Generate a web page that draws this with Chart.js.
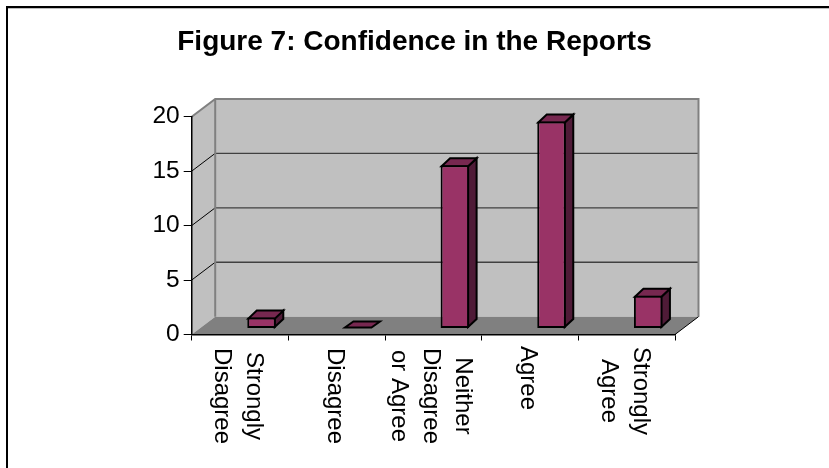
<!DOCTYPE html>
<html>
<head>
<meta charset="utf-8">
<style>html,body{margin:0;padding:0;background:#fff}#wrap{position:relative;width:829px;height:468px}</style>
<script src="https://cdn.jsdelivr.net/npm/chart.js@4/dist/chart.umd.min.js"></script>
</head>
<body>
<div id="wrap"><canvas id="c" width="829" height="468"></canvas></div>
<script>
const categories = [['Strongly','Disagree'],'Disagree',['Neither','Disagree','or Agree'],'Agree',['Strongly','Agree']];
const values = [1,0,15,19,3];
const yTicks = [0,5,10,15,20];
const labelCentres = [396,396,396,378,391];

const FONT = '"Liberation Sans", Arial, sans-serif';
const WALL_DX = 23.5, WALL_DY = 17.8;
const BAR_DX = 21.5, BAR_DY = 6, DEPTH_X = 8.5, DEPTH_Y = 8;
const LINE_STEP = 32;

function poly(ctx, pts, fill, stroke, lw){
  ctx.beginPath();
  pts.forEach((p,i)=> i ? ctx.lineTo(p[0],p[1]) : ctx.moveTo(p[0],p[1]));
  ctx.closePath();
  if (fill){ ctx.fillStyle = fill; ctx.fill(); }
  if (stroke){ ctx.strokeStyle = stroke; ctx.lineWidth = lw; ctx.stroke(); }
}

const frame3d = {
  id:'frame3d',
  beforeDraw(chart){
    const ctx = chart.ctx;
    ctx.save();
    ctx.fillStyle='#fff'; ctx.fillRect(0,0,chart.width,chart.height);
    ctx.fillStyle='#000';
    ctx.fillRect(6,6,chart.width-6,2);
    ctx.fillRect(6,6,2,chart.height-6);
    ctx.fillStyle='#bdbdbd';
    ctx.fillRect(8,8,chart.width-8,1);
    ctx.restore();
  },
  beforeDatasetsDraw(chart){
    const {ctx, chartArea:a, scales:{y}} = chart;
    const d = WALL_DX, h = WALL_DY;
    ctx.save();
    ctx.lineJoin='miter';
    poly(ctx,[[a.left+d,a.top-h],[a.right+d,a.top-h],[a.right+d,a.bottom-h],[a.left+d,a.bottom-h]],'#c0c0c0');
    poly(ctx,[[a.left,a.top],[a.left+d,a.top-h],[a.left+d,a.bottom-h],[a.left,a.bottom]],'#c0c0c0');
    poly(ctx,[[a.left,a.bottom],[a.left+d,a.bottom-h],[a.right+d,a.bottom-h],[a.right,a.bottom]],'#808080');
    yTicks.forEach(v=>{
      if (v===0) return;
      const py = y.getPixelForValue(v);
      ctx.lineWidth=1;
      ctx.strokeStyle='#000';
      if (v!==20){
        ctx.beginPath(); ctx.moveTo(a.left,py); ctx.lineTo(a.left+d,py-h); ctx.stroke();
        ctx.strokeStyle='#404040'; ctx.lineWidth=1.3;
        ctx.beginPath(); ctx.moveTo(a.left+d,py-h); ctx.lineTo(a.right+d,py-h); ctx.stroke();
      }
    });
    ctx.strokeStyle='#808080'; ctx.lineWidth=2;
    ctx.beginPath();
    ctx.moveTo(a.left,a.top); ctx.lineTo(a.left+d,a.top-h); ctx.lineTo(a.right+d,a.top-h); ctx.lineTo(a.right+d,a.bottom-h);
    ctx.moveTo(a.left+d,a.top-h); ctx.lineTo(a.left+d,a.bottom-h);
    ctx.stroke();
    ctx.strokeStyle='#000'; ctx.lineWidth=1;
    ctx.beginPath(); ctx.moveTo(a.right,a.bottom); ctx.lineTo(a.right+d,a.bottom-h); ctx.stroke();
    ctx.restore();
  },
  beforeDatasetDraw(chart,args){
    const ctx = chart.ctx;
    ctx.save();
    ctx.translate(BAR_DX,-BAR_DY);
    ctx.lineJoin='miter';
    args.meta.data.forEach(bar=>{
      const {x,y,base,width} = bar.getProps(['x','y','base','width'],true);
      const l=x-width/2+1, r=x+width/2-1, t=Math.min(y,base)+1, b=Math.max(y,base)-1;
      if (b>t) poly(ctx,[[r,t],[r+DEPTH_X,t-DEPTH_Y],[r+DEPTH_X,b-DEPTH_Y],[r,b]],'#4f1b37','#000',2);
      const tt = b>t ? t : base-1;
      poly(ctx,[[l,tt],[l+DEPTH_X,tt-DEPTH_Y+(b>t?0:2)],[r+DEPTH_X,tt-DEPTH_Y+(b>t?0:2)],[r,tt]],'#772850','#000',2);
    });
  },
  afterDatasetDraw(chart){ chart.ctx.restore(); },
  afterDraw(chart){
    const {ctx, scales:{x}} = chart;
    ctx.save();
    ctx.font = '24px '+FONT;
    ctx.fillStyle='#000';
    ctx.textAlign='center';
    ctx.textBaseline='middle';
    categories.forEach((cat,i)=>{
      const lines = Array.isArray(cat) ? cat : [cat];
      const cx = x.getPixelForValue(i)-2.5;
      lines.forEach((s,j)=>{
        ctx.save();
        ctx.translate(cx + ((lines.length-1)/2 - j)*LINE_STEP, labelCentres[i]);
        ctx.rotate(Math.PI/2);
        ctx.fillText(s,0,0);
        ctx.restore();
      });
    });
    ctx.restore();
  }
};

new Chart(document.getElementById('c'),{
  type:'bar',
  data:{labels:categories,datasets:[{
    data:values,
    backgroundColor:'#993366',
    borderColor:'#000',
    borderWidth:2,
    borderSkipped:false,
    barPercentage:0.295,
    categoryPercentage:1,
    clip:false
  }]},
  plugins:[frame3d],
  options:{
    responsive:false,
    animation:false,
    events:[],
    layout:{padding:0},
    plugins:{
      legend:{display:false},
      tooltip:{enabled:false},
      title:{
        display:true,
        text:'Figure 7: Confidence in the Reports',
        color:'#000',
        font:{family:FONT,size:28,weight:'bold',lineHeight:1.2},
        padding:{top:25,bottom:58.1}
      }
    },
    scales:{
      x:{
        afterFit(s){ s.height = 133.5; },
        grid:{drawOnChartArea:false,drawTicks:true,color:'#000',tickLength:6,z:1},
        border:{display:true,color:'#000',width:1.5,z:1},
        ticks:{display:false}
      },
      y:{
        min:0,max:20,
        afterFit(s){ s.width = 191.7; },
        afterBuildTicks(s){ s.ticks = yTicks.map(v=>({value:v})); },
        grid:{drawOnChartArea:false,drawTicks:true,color:'#000',tickLength:8,z:1},
        border:{display:true,color:'#000',width:1.5,z:1},
        ticks:{color:'#000',padding:4,font:{family:FONT,size:24.5},z:1}
      },
      pad:{
        position:'right',
        display:true,
        afterFit(s){ s.width = 154; },
        grid:{display:false},
        border:{display:false},
        ticks:{display:false}
      }
    }
  }
});
</script>
</body>
</html>
